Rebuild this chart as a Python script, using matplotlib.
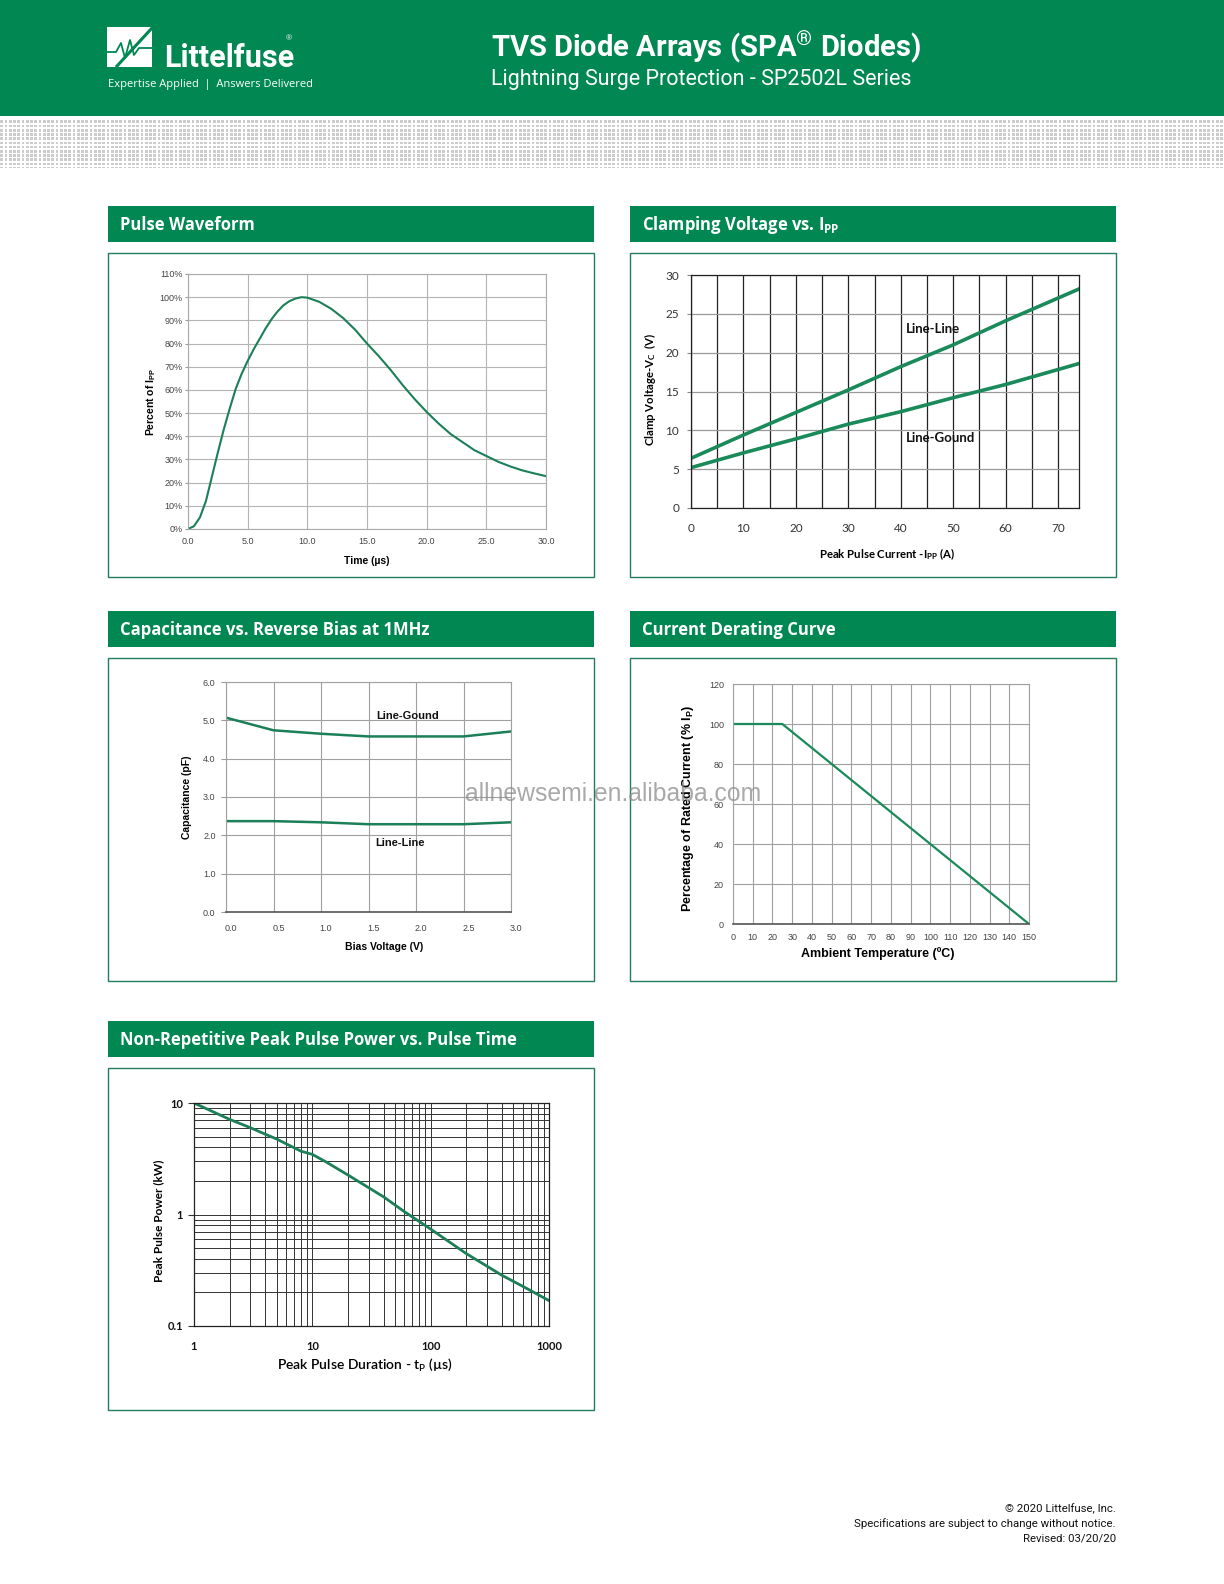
import numpy as np
import matplotlib
matplotlib.use('Agg')
import matplotlib.pyplot as plt
from matplotlib.patches import Rectangle, Polygon
from matplotlib.transforms import ScaledTranslation

# ---- data ----
# Pulse waveform (8/20 us)
t_us = [0, 0.5, 1, 1.5, 2, 2.5, 3, 3.5, 4, 4.5, 5, 5.5, 6, 6.5, 7, 7.5, 8, 8.5,
        9, 9.5, 10, 11, 12, 13, 14, 15, 16, 17, 18, 19, 20, 21, 22, 23, 24,
        25, 26, 27, 28, 29, 30]
pulse_pct = [0, 1.2, 5, 12, 22.5, 33, 43, 52, 60.5, 67, 72.5, 77.5, 82, 86.5,
             90.5, 93.8, 96.5, 98.3, 99.4, 100, 99.8, 98, 95, 91, 86, 80, 74.5,
             68.5, 62, 56, 50.5, 45.5, 41, 37.5, 34, 31.5, 29, 27, 25.3, 24, 22.8]

# Clamping voltage vs Ipp
ipp_a = [0, 10, 20, 30, 40, 50, 60, 74]
vc_line_line = [6.4, 9.4, 12.3, 15.2, 18.2, 21.0, 24.1, 28.2]
vc_line_gnd = [5.2, 7.1, 8.9, 10.8, 12.4, 14.2, 15.9, 18.6]

# Capacitance vs reverse bias
bias_v = [0.0, 0.5, 1.0, 1.5, 2.0, 2.5, 3.0]
cap_line_gnd = [5.07, 4.74, 4.65, 4.58, 4.58, 4.58, 4.71]
cap_line_line = [2.37, 2.37, 2.34, 2.29, 2.29, 2.29, 2.34]

# Current derating
temp_c = [0, 25, 150]
derate_pct = [100, 100, 0]

# Peak pulse power vs pulse time
tp_us = [1, 2, 3, 4, 5, 8, 10, 13, 20, 40, 60, 100, 200, 400, 600, 1000]
ppk_kw = [10, 7.13, 6.0, 5.25, 4.75, 3.7, 3.46, 2.97, 2.26, 1.44, 1.06, 0.74,
          0.446, 0.285, 0.227, 0.169]

W, H = 1224, 1584
GREEN = '#008752'
LINE = '#1b7f58'
HELV = ['Liberation Sans', 'DejaVu Sans']
NARROW = ['Roboto', 'Liberation Sans', 'DejaVu Sans']
HEAD = ['Open Sans', 'DejaVu Sans']
CALI = ['Lato', 'DejaVu Sans']

fig = plt.figure(figsize=(W / 100, H / 100), dpi=100)

bg = fig.add_axes([0, 0, 1, 1], zorder=-5)
bg.axis('off')

# header band
bg.add_patch(Rectangle((0, 0), W, 116, color=GREEN, lw=0))

# dotted band under header
ys = np.arange(48)
xs = np.arange(W)
mask = ((ys[:, None] % 4.2) < 2.6) & ((xs[None, :] % 4.25) < 2.6)
band = np.where(mask, 0.8, 1.0)
bg.imshow(band, cmap='gray', vmin=0, vmax=1, extent=(0, W, 168, 120),
          interpolation='nearest', aspect='auto')
bg.set_xlim(0, W)
bg.set_ylim(H, 0)

# logo
bg.add_patch(Rectangle((107, 27), 45, 40, color='white', lw=0))
bg.plot([152, 117], [28, 66], color=GREEN, lw=2.2)
bg.plot([107, 116, 121, 125, 130, 134, 139, 152],
        [52, 52, 43, 58, 40, 55, 48, 48], color=GREEN, lw=1.3)
bg.add_patch(Polygon([(113, 62), (152, 62), (152, 67), (113, 67)], closed=True,
                     color='white', lw=0))
bg.text(164, 67, 'Littelfuse', color='white', fontsize=22, fontweight='bold',
        family=NARROW, va='baseline', ha='left')
bg.text(286, 39, '®', color='white', fontsize=6, family=HELV, va='center')
bg.text(108, 84, 'Expertise Applied  |  Answers Delivered', color='white',
        fontsize=8, family=HEAD, va='center', ha='left')

bg.text(491, 47, r'TVS Diode Arrays (SPA$^{\mathregular{®}}$ Diodes)', color='white',
        fontsize=21, fontweight='bold', family=NARROW, va='center', ha='left')
bg.text(491, 79, 'Lightning Surge Protection - SP2502L Series', color='white',
        fontsize=15.5, family=NARROW, va='center', ha='left')

# panels: header strip + box
panels = [
    (108, 594, 206, 242, 253, 577, 'Pulse Waveform'),
    (630, 1116, 206, 242, 253, 577, r'Clamping Voltage vs. I$_{\mathregular{PP}}$'),
    (108, 594, 611, 647, 658, 981, 'Capacitance vs. Reverse Bias at 1MHz'),
    (630, 1116, 611, 647, 658, 981, 'Current Derating Curve'),
    (108, 594, 1021, 1057, 1068, 1410, 'Non-Repetitive Peak Pulse Power vs. Pulse Time'),
]
for x0, x1, hy0, hy1, by0, by1, title in panels:
    bg.add_patch(Rectangle((x0, hy0), x1 - x0, hy1 - hy0, color=GREEN, lw=0))
    bg.add_patch(Rectangle((x0, by0), x1 - x0, by1 - by0, facecolor='white',
                           edgecolor='#1f7d57', lw=1.0))
    bg.text(x0 + 12, (hy0 + hy1) / 2 + 1, title, color='white', fontsize=12,
            fontweight='bold', family=HEAD, va='center', ha='left')

# footer
for i, line in enumerate(['© 2020 Littelfuse, Inc.',
                          'Specifications are subject to change without notice.',
                          'Revised: 03/20/20']):
    bg.text(1116, 1509 + 15 * i, line, fontsize=8.2, family=NARROW,
            ha='right', va='center', color='#111')


def px_axes(x0, y0, x1, y1):
    return fig.add_axes([x0 / W, 1 - y1 / H, (x1 - x0) / W, (y1 - y0) / H])


def label_at(ax, xlabel, ylabel, xpos, ypos, **kw):
    ax.set_xlabel(xlabel, **kw)
    ax.set_ylabel(ylabel, **kw)
    ax.xaxis.set_label_coords(*xpos)
    ax.yaxis.set_label_coords(*ypos)
    ax.xaxis.label.set_va('center')
    ax.yaxis.label.set_va('center')


# ---- Pulse waveform ----
ax1 = px_axes(188, 274, 546, 529)
ax1.plot(t_us, pulse_pct, color=LINE, lw=1.5)
ax1.set_xlim(0, 30)
ax1.set_ylim(0, 110)
ax1.set_xticks(np.arange(0, 31, 5))
ax1.set_xticklabels([f'{v:.1f}' for v in np.arange(0, 31, 5)])
ax1.set_yticks(np.arange(0, 111, 10))
ax1.set_yticklabels([f'{v}%' for v in range(0, 111, 10)])
ax1.grid(True, color='#b4b4b4', lw=0.8)
for s in ax1.spines.values():
    s.set_color('#aaaaaa')
    s.set_linewidth(0.8)
ax1.tick_params(axis='y', length=2.5, color='#999', pad=1.5, labelsize=6.5,
                labelcolor='#444')
ax1.tick_params(axis='x', length=0, pad=6, labelsize=6.5, labelcolor='#444')
for lbl in ax1.get_xticklabels() + ax1.get_yticklabels():
    lbl.set_family(HELV)
label_at(ax1, 'Time (µs)', r'Percent of I$_{\mathregular{PP}}$',
         (0.5, -0.125), (-0.103, 0.5), fontsize=7.5, fontweight='bold', family=HELV)

# ---- Clamping voltage ----
ax2 = px_axes(691, 275, 1079, 508)
ax2.plot(ipp_a, vc_line_line, color='#1a8a5a', lw=2.6)
ax2.plot(ipp_a, vc_line_gnd, color='#1a8a5a', lw=2.6)
ax2.set_xlim(0, 74)
ax2.set_ylim(0, 30)
ax2.set_xticks(np.arange(0, 71, 10))
ax2.set_xticks(np.arange(0, 71, 5), minor=True)
ax2.set_yticks(np.arange(0, 31, 5))
ax2.grid(True, axis='x', which='both', color='#222', lw=0.9)
ax2.grid(True, axis='y', color='#999', lw=0.9)
for s in ax2.spines.values():
    s.set_color('#222')
    s.set_linewidth(0.9)
ax2.tick_params(axis='y', length=3, color='#888', pad=5.5, labelsize=8.5,
                labelcolor='#333')
ax2.tick_params(axis='x', which='both', length=0, pad=11, labelsize=8.5,
                labelcolor='#333')
for lbl in ax2.get_xticklabels() + ax2.get_yticklabels():
    lbl.set_family(CALI)
ax2.text(41, 23, 'Line-Line', fontsize=9.5, fontweight='bold', family=CALI,
         va='center', ha='left', color='#111')
ax2.text(41, 9, 'Line-Gound', fontsize=9.5, fontweight='bold', family=CALI,
         va='center', ha='left', color='#111')
label_at(ax2, r'Peak Pulse Current -I$_{\mathregular{PP}}$ (A)',
         r'Clamp Voltage-V$_{\mathregular{C}}$  (V)',
         (0.505, -0.197), (-0.106, 0.51), fontsize=8.2, fontweight='bold', family=CALI)

# ---- Capacitance ----
ax3 = px_axes(226, 682, 511, 912)
ax3.plot(bias_v, cap_line_gnd, color=LINE, lw=1.8)
ax3.plot(bias_v, cap_line_line, color=LINE, lw=1.8)
ax3.set_xlim(0, 3)
ax3.set_ylim(0, 6)
ax3.set_xticks(bias_v)
ax3.set_xticklabels([f'{v:.1f}' for v in bias_v])
ax3.set_yticks(np.arange(0, 7, 1))
ax3.set_yticklabels([f'{v:.1f}' for v in range(7)])
ax3.grid(True, color='#a0a0a0', lw=0.8)
for s in ax3.spines.values():
    s.set_color('#a0a0a0')
    s.set_linewidth(0.8)
ax3.spines['bottom'].set_color('#555')
ax3.spines['bottom'].set_linewidth(1.2)
ax3.tick_params(axis='y', length=3.5, color='#999', pad=4, labelsize=6.5,
                labelcolor='#444')
ax3.tick_params(axis='x', length=0, pad=8.5, labelsize=6.5, labelcolor='#444')
for lbl in ax3.get_xticklabels():
    lbl.set_transform(lbl.get_transform() + ScaledTranslation(0.05, 0, fig.dpi_scale_trans))
for lbl in ax3.get_xticklabels() + ax3.get_yticklabels():
    lbl.set_family(HELV)
ax3.text(1.91, 5.11, 'Line-Gound', fontsize=8, fontweight='bold', family=HELV,
         va='center', ha='center', color='#111')
ax3.text(1.83, 1.81, 'Line-Line', fontsize=8, fontweight='bold', family=HELV,
         va='center', ha='center', color='#111')
label_at(ax3, 'Bias Voltage (V)', 'Capacitance (pF)',
         (0.554, -0.152), (-0.137, 0.5), fontsize=7.5, fontweight='bold', family=HELV)

# ---- Current derating ----
ax4 = px_axes(733, 684, 1029, 924)
ax4.plot(temp_c, derate_pct, color='#1b8a5a', lw=1.6)
ax4.set_xlim(0, 150)
ax4.set_ylim(0, 120)
ax4.set_xticks(np.arange(0, 151, 10))
ax4.set_yticks(np.arange(0, 121, 20))
ax4.grid(True, color='#a0a0a0', lw=0.8)
for s in ax4.spines.values():
    s.set_color('#a0a0a0')
    s.set_linewidth(0.8)
ax4.spines['bottom'].set_color('#555')
ax4.spines['bottom'].set_linewidth(1.2)
ax4.tick_params(axis='both', length=0, pad=6.5, labelsize=6.5, labelcolor='#444')
for lbl in ax4.get_xticklabels() + ax4.get_yticklabels():
    lbl.set_family(HELV)
label_at(ax4, 'Ambient Temperature (ºC)',
         r'Percentage of Rated Current (% I$_{\mathregular{P}}$)',
         (0.49, -0.121), (-0.152, 0.483), fontsize=9, fontweight='bold', family=HELV)

# ---- Peak pulse power ----
ax5 = px_axes(194, 1103, 549, 1326)
ax5.loglog(tp_us, ppk_kw, color=LINE, lw=2.0)
ax5.set_xlim(1, 1000)
ax5.set_ylim(0.1, 10)
ax5.set_xticks([1, 10, 100, 1000])
ax5.set_xticklabels(['1', '10', '100', '1000'])
ax5.set_yticks([0.1, 1, 10])
ax5.set_yticklabels(['0.1', '1', '10'])
ax5.xaxis.set_minor_formatter(plt.NullFormatter())
ax5.yaxis.set_minor_formatter(plt.NullFormatter())
ax5.grid(True, which='both', color='#333', lw=0.7)
for s in ax5.spines.values():
    s.set_color('#222')
    s.set_linewidth(0.9)
ax5.tick_params(axis='y', which='major', length=4, color='#333', pad=4,
                labelsize=8, labelcolor='#111')
ax5.tick_params(axis='y', which='minor', length=0)
ax5.tick_params(axis='x', which='both', length=0, pad=11, labelsize=8,
                labelcolor='#111')
for lbl in ax5.get_xticklabels() + ax5.get_yticklabels():
    lbl.set_family(CALI)
    lbl.set_fontweight('bold')
ax5.set_xlabel(r'Peak Pulse Duration - t$_{\mathregular{P}}$ (µs)', fontsize=10,
               fontweight='semibold', family=CALI)
ax5.set_ylabel('Peak Pulse Power (kW)', fontsize=8.5, fontweight='bold', family=CALI)
ax5.xaxis.set_label_coords(0.48, -0.175)
ax5.yaxis.set_label_coords(-0.099, 0.47)
ax5.xaxis.label.set_va('center')
ax5.yaxis.label.set_va('center')

# watermark on the scanned page
fig.text(613 / W, 1 - 794 / H, 'allnewsemi.en.alibaba.com', fontsize=17.8,
         family=HELV, color='#8c8c8c', alpha=0.75, ha='center', va='center')

fig.savefig('out.png', dpi=100)
